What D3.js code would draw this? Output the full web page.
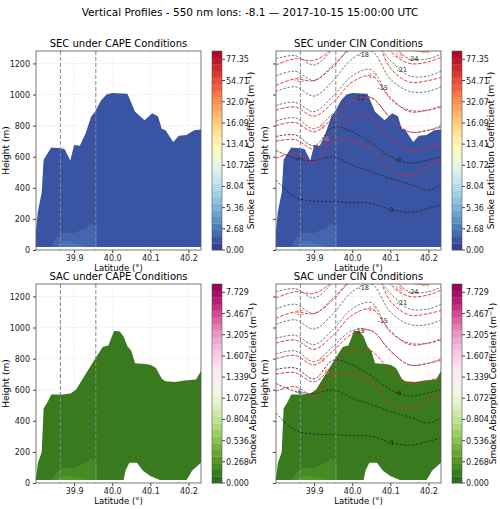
<!DOCTYPE html>
<html>
<head>
<meta charset="utf-8">
<script src="https://cdn.jsdelivr.net/npm/d3@7"></script>
<style>
body { margin: 0; background: #fff; }
text { font-family: "DejaVu Sans", sans-serif; }
</style>
</head>
<body>
<svg id="chart" width="500" height="510"></svg>
<script>
// data
var lats = [39.80, 39.85, 39.90, 39.95, 40.00, 40.05, 40.10, 40.15, 40.20, 40.233];
var xTicks = [39.9, 40.0, 40.1, 40.2];
var yTicks = [0, 200, 400, 600, 800, 1000, 1200];
var frontLats = [39.864, 39.957];

var secTop = [[39.80,125],[39.805,250],[39.815,370],[39.82,580],[39.83,620],[39.84,660],[39.865,655],[39.875,650],
  [39.89,575],[39.90,675],[39.915,670],[39.93,750],[39.945,860],[39.955,890],[39.97,960],[39.985,1000],[40.0,1010],
  [40.04,1005],[40.06,890],[40.085,835],[40.105,880],[40.12,860],[40.13,780],[40.14,770],[40.16,695],[40.175,735],
  [40.195,740],[40.215,770],[40.233,775]];
var secInner = [[39.84,20],[39.855,80],[39.87,110],[39.90,110],[39.93,140],[39.945,170],[39.96,140],[39.96,20]];
var secInner2 = [[39.855,20],[39.87,55],[39.90,50],[39.925,30],[39.93,20]];

var sacTop = [[39.80,30],[39.805,130],[39.815,200],[39.82,480],[39.83,520],[39.84,570],[39.87,570],[39.89,575],
  [39.905,600],[39.93,700],[39.955,800],[39.975,875],[39.99,885],[40.005,980],[40.02,975],[40.03,940],[40.04,880],
  [40.05,850],[40.06,770],[40.085,765],[40.1,760],[40.115,740],[40.13,670],[40.14,655],[40.165,650],[40.19,660],
  [40.22,665],[40.233,720]];
var sacBottom = [[40.233,130],[40.21,80],[40.195,20],[40.125,20],[40.1,45],[40.08,80],[40.065,130],[40.045,130],
  [40.035,80],[40.03,20],[39.80,20]];
var sacInner = [[39.84,20],[39.855,70],[39.87,100],[39.90,95],[39.93,130],[39.945,160],[39.96,130],[39.96,20]];
var sacInner2 = [[39.855,20],[39.87,45],[39.90,40],[39.925,25],[39.93,20]];

var blackLevels = [-3, -6, -9, -12, -15, -18, -21, -24];
var blackLines = [
  [450, 340, 315, 312, 305, 300, 262, 242, 268, 290],
  [640, 590, 575, 600, 545, 505, 460, 425, 385, 420],
  [730, 740, 670, 790, 760, 690, 600, 560, 580, 600],
  [830, 850, 780, 880, 980, 980, 850, 760, 770, 800],
  [930, 950, 890, 990, 1120, 1160, 970, 900, 900, 930],
  [1020, 1050, 990, 1090, 1230, 1280, 1100, 1020, 1020, 1050],
  [1120, 1150, 1090, 1190, 1300, 1350, 1220, 1120, 1120, 1150],
  [1230, 1250, 1190, 1290, 1400, 1450, 1330, 1230, 1230, 1260]
];
var blackLabelLat = [40.10, 39.86, 40.12, 40.02, 40.08, 40.03, 40.13, 40.16];

var redLevels = [-3, -6, -9, -12, -15, -18, -21];
var redLines = [
  [590, 620, 560, 700, 700, 650, 520, 480, 540, 580],
  [700, 710, 650, 760, 860, 850, 720, 640, 660, 680],
  [800, 820, 760, 850, 960, 980, 850, 760, 770, 790],
  [900, 920, 860, 950, 1080, 1120, 980, 890, 900, 920],
  [1060, 1100, 1090, 1180, 1320, 1400, 1170, 1080, 1090, 1110],
  [1190, 1230, 1220, 1300, 1450, 1500, 1280, 1200, 1210, 1240],
  [1300, 1360, 1350, 1420, 1550, 1600, 1380, 1290, 1280, 1300]
];
var redLabelLat = [null, 39.93, 39.92, 40.05, 39.86, 40.12, 40.19];

var secTickLabels = ["0.00", "2.68", "5.36", "8.04", "10.72", "13.41", "16.09", "32.07", "54.71", "77.35"];
var sacTickLabels = ["0.000", "0.268", "0.536", "0.804", "1.072", "1.339", "1.607", "3.205", "5.467", "7.729"];

var svg = d3.select("#chart");
svg.append("text").attr("x", 250).attr("y", 16).attr("text-anchor", "middle")
  .attr("font-size", 10.5).text("Vertical Profiles - 550 nm lons: -8.1 \u2014 2017-10-15 15:00:00 UTC");

var pw = 165, ph = 199;
var panels = [
  {x: 36, y: 51, title: "SEC under CAPE Conditions", kind: "sec", cin: false, ylab: true},
  {x: 276, y: 51, title: "SEC under CIN Conditions", kind: "sec", cin: true, ylab: false},
  {x: 36, y: 284, title: "SAC under CAPE Conditions", kind: "sac", cin: false, ylab: true},
  {x: 276, y: 284, title: "SAC under CIN Conditions", kind: "sac", cin: true, ylab: false}
];

var x = d3.scaleLinear().domain([39.80, 40.233]).range([0, pw]);
var y = d3.scaleLinear().domain([0, 1280]).range([ph, 0]);
var area = d3.line().x(function(d) { return x(d[0]); }).y(function(d) { return y(d[1]); });
var contour = d3.line().curve(d3.curveCatmullRom)
  .x(function(d, i) { return x(lats[i]); }).y(function(d) { return y(d); });

panels.forEach(function(p, pi) {
  var g = svg.append("g").attr("transform", "translate(" + p.x + "," + p.y + ")");
  g.append("clipPath").attr("id", "clip" + pi).append("rect").attr("width", pw).attr("height", ph);
  var body = g.append("g").attr("clip-path", "url(#clip" + pi + ")");

  // grid
  xTicks.forEach(function(t) {
    body.append("line").attr("x1", x(t)).attr("x2", x(t)).attr("y1", 0).attr("y2", ph)
      .attr("stroke", "#ddd").attr("stroke-width", 0.6).attr("stroke-dasharray", "1.5,1.5");
  });
  yTicks.forEach(function(t) {
    body.append("line").attr("x1", 0).attr("x2", pw).attr("y1", y(t)).attr("y2", y(t))
      .attr("stroke", "#ddd").attr("stroke-width", 0.6).attr("stroke-dasharray", "1.5,1.5");
  });

  // filled profile
  if (p.kind == "sec") {
    var poly = secTop.concat([[40.233, 20], [39.80, 20]]);
    body.append("path").attr("d", area(poly) + "Z").attr("fill", "#3a54a4");
    body.append("path").attr("d", area(secInner) + "Z").attr("fill", "#4366ae");
    body.append("path").attr("d", area(secInner2) + "Z").attr("fill", "#4a76b6");
  } else {
    var poly2 = sacTop.concat(sacBottom);
    body.append("path").attr("d", area(poly2) + "Z").attr("fill", "#3a7a1f");
    body.append("path").attr("d", area(sacInner) + "Z").attr("fill", "#468c25");
    body.append("path").attr("d", area(sacInner2) + "Z").attr("fill", "#4f982b");
  }

  // CIN contours
  if (p.cin) {
    blackLines.forEach(function(line, i) {
      body.append("path").attr("d", contour(line)).attr("fill", "none")
        .attr("stroke", i < 3 ? "#222" : "#555").attr("stroke-width", 0.8).attr("stroke-dasharray", "2.5,1.5");
      var la = blackLabelLat[i];
      var k = d3.bisectLeft(lats, la);
      var t = (la - lats[k - 1]) / (lats[k] - lats[k - 1]);
      var hy = line[k - 1] + t * (line[k] - line[k - 1]);
      body.append("text").attr("x", x(la)).attr("y", y(hy) + 2.5).attr("text-anchor", "middle")
        .attr("font-size", 6.5).attr("fill", "#222").text(blackLevels[i]);
    });
    redLines.forEach(function(line, i) {
      body.append("path").attr("d", contour(line)).attr("fill", "none")
        .attr("stroke", "#e8262a").attr("stroke-width", 0.9).attr("stroke-dasharray", "3.5,1.5");
      var la = redLabelLat[i];
      if (la == null) return;
      var k = d3.bisectLeft(lats, la);
      var t = (la - lats[k - 1]) / (lats[k] - lats[k - 1]);
      var hy = line[k - 1] + t * (line[k] - line[k - 1]);
      body.append("text").attr("x", x(la)).attr("y", y(hy) + 2.5).attr("text-anchor", "middle")
        .attr("font-size", 6.5).attr("fill", "#f07070").text(redLevels[i]);
    });
  }

  // front lines
  frontLats.forEach(function(f) {
    body.append("line").attr("x1", x(f)).attr("x2", x(f)).attr("y1", 0).attr("y2", ph)
      .attr("stroke", "#888").attr("stroke-width", 1).attr("stroke-dasharray", "4,2");
  });

  // axes
  var xa = g.append("g").attr("transform", "translate(0," + ph + ")")
    .call(d3.axisBottom(x).tickValues(xTicks).tickFormat(d3.format(".1f")).tickSize(3).tickPadding(2));
  var ya = g.append("g").call(d3.axisLeft(y).tickValues(yTicks).tickSize(3)
    .tickFormat(p.ylab ? d3.format("d") : ""));
  [xa, ya].forEach(function(a) {
    a.selectAll("text").attr("font-size", 8).attr("fill", "#222");
    a.selectAll("line").attr("stroke", "#444");
    a.select(".domain").remove();
  });
  g.append("rect").attr("width", pw).attr("height", ph).attr("fill", "none").attr("stroke", "#555").attr("stroke-width", 0.8);

  g.append("text").attr("x", pw / 2).attr("y", -4).attr("text-anchor", "middle").attr("font-size", 10).text(p.title);
  g.append("text").attr("x", pw / 2).attr("y", ph + 20.5).attr("text-anchor", "middle").attr("font-size", 8.5).text("Latitude (\u00b0)");
  g.append("text").attr("transform", "translate(" + (p.ylab ? -27 : -8) + "," + ph / 2 + ") rotate(-90)")
    .attr("text-anchor", "middle").attr("font-size", 9).text("Height (m)");

  // colorbar
  var cb = g.append("g").attr("transform", "translate(" + (pw + 11) + ",0)");
  var nb = 30;
  var interp = p.kind == "sec" ? function(t) { return d3.interpolateRdYlBu(1 - t); }
                                : function(t) { return d3.interpolatePiYG(1 - t); };
  var cbScale = d3.scaleLinear().domain([0, nb]).range([ph, 0]);
  d3.range(nb).forEach(function(i) {
    cb.append("rect").attr("x", 0).attr("width", 10).attr("y", cbScale(i + 1)).attr("height", cbScale(i) - cbScale(i + 1) + 0.3)
      .attr("fill", interp((i + 0.5) / nb));
  });
  cb.append("rect").attr("width", 10).attr("height", ph).attr("fill", "none").attr("stroke", "#555").attr("stroke-width", 0.6);
  var labs = p.kind == "sec" ? secTickLabels : sacTickLabels;
  var tickY = d3.scaleLinear().domain([0, labs.length - 1]).range([ph, ph * 0.042]);
  labs.forEach(function(l, i) {
    cb.append("line").attr("x1", 10).attr("x2", 13).attr("y1", tickY(i)).attr("y2", tickY(i)).attr("stroke", "#444");
    cb.append("text").attr("x", 14).attr("y", tickY(i) + 3).attr("font-size", 8).attr("fill", "#222").text(l);
  });
  var cbl = p.kind == "sec" ? "Smoke Extinction Coefficient (m" : "Smoke Absorption Coefficient (m";
  var lt = cb.append("text").attr("transform", "translate(" + (p.kind == "sec" ? 42 : 44) + "," + ph / 2 + ") rotate(-90)")
    .attr("text-anchor", "middle").attr("font-size", 9).text(cbl);
  lt.append("tspan").attr("dy", -3).attr("font-size", 6.5).text("\u22121");
  lt.append("tspan").attr("dy", 3).text(")");
});
</script>
</body>
</html>
